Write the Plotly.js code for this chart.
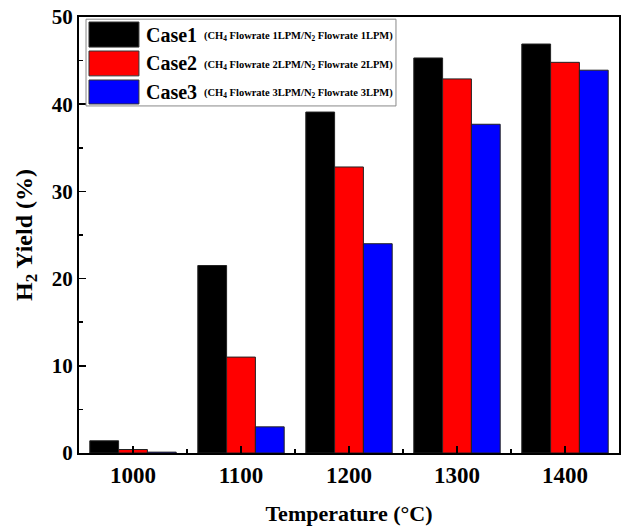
<!DOCTYPE html>
<html>
<head>
<meta charset="utf-8">
<script src="https://cdn.plot.ly/plotly-3.0.1.min.js"></script>
<style>html,body{margin:0;padding:0;background:#fff}#chart{width:623px;height:526px}</style>
</head>
<body>
<div id="chart"></div>
<script>
const temperatures = [1000, 1100, 1200, 1300, 1400];
const case1 = [1.4, 21.5, 39.1, 45.3, 46.9];
const case2 = [0.4, 11.0, 32.8, 42.9, 44.8];
const case3 = [0.1, 3.0, 24.0, 37.7, 43.9];
const seriesNames = ['Case1', 'Case2', 'Case3'];
const seriesNotes = [
  '(CH<sub>4</sub> Flowrate 1LPM/N<sub>2</sub> Flowrate 1LPM)',
  '(CH<sub>4</sub> Flowrate 2LPM/N<sub>2</sub> Flowrate 2LPM)',
  '(CH<sub>4</sub> Flowrate 3LPM/N<sub>2</sub> Flowrate 3LPM)'
];
const colors = ['#000000', '#ff0000', '#0000ff'];
const values = [case1, case2, case3];

const FONT = 'Liberation Serif, Times New Roman, serif';

const traces = values.map((v, i) => ({
  type: 'bar',
  x: temperatures,
  y: v,
  name: seriesNames[i],
  marker: {color: colors[i], line: {color: '#222', width: 1}},
  showlegend: false
}));

// custom legend (paper coordinates)
const shapes = [{
  type: 'rect', xref: 'paper', yref: 'paper',
  x0: 0.013, x1: 0.587, y0: 0.796, y1: 0.995,
  line: {color: '#888', width: 1}, fillcolor: 'rgba(255,255,255,1)'
}];
const rows = [[0.9885, 0.931], [0.922, 0.865], [0.8555, 0.8005]];
const annotations = [];
rows.forEach((r, i) => {
  shapes.push({
    type: 'rect', xref: 'paper', yref: 'paper',
    x0: 0.0185, x1: 0.111, y0: r[1], y1: r[0],
    line: {color: '#333', width: 1}, fillcolor: colors[i]
  });
  const yc = (r[0] + r[1]) / 2;
  annotations.push({
    xref: 'paper', yref: 'paper', x: 0.12, y: yc, xanchor: 'left', yanchor: 'middle',
    text: '<b>' + seriesNames[i] + '</b>', showarrow: false,
    font: {family: FONT, size: 20, color: '#000'}
  });
  annotations.push({
    xref: 'paper', yref: 'paper', x: 0.228, y: yc - 0.004, xanchor: 'left', yanchor: 'middle',
    text: '<b>' + seriesNotes[i] + '</b>', showarrow: false,
    font: {family: FONT, size: 10.5, color: '#000'}
  });
});

const layout = {
  width: 623, height: 526,
  margin: {l: 79, r: 4, t: 17, b: 73},
  paper_bgcolor: '#fff', plot_bgcolor: '#fff',
  barmode: 'group', bargap: 0.2, bargroupgap: 0,
  font: {family: FONT, color: '#000'},
  xaxis: {
    range: [950, 1450], tickmode: 'linear', tick0: 1000, dtick: 100,
    ticks: 'inside', ticklen: 7, tickwidth: 1.5, tickcolor: '#000',
    minor: {tickmode: 'linear', tick0: 950, dtick: 50, ticks: 'inside', ticklen: 4, tickwidth: 1.5, tickcolor: '#000'},
    showline: true, linecolor: '#000', linewidth: 2, mirror: true,
    showgrid: false, zeroline: false,
    tickfont: {family: FONT, size: 23, weight: 'bold'},
    title: {text: '<b>Temperature (°C)</b>', font: {family: FONT, size: 22}, standoff: 20}
  },
  yaxis: {
    range: [0, 50], tickmode: 'linear', tick0: 0, dtick: 10,
    ticks: 'inside', ticklen: 7, tickwidth: 1.5, tickcolor: '#000',
    minor: {tickmode: 'linear', tick0: 0, dtick: 5, ticks: 'inside', ticklen: 4, tickwidth: 1.5, tickcolor: '#000'},
    showline: true, linecolor: '#000', linewidth: 2, mirror: true,
    showgrid: false, zeroline: false,
    tickfont: {family: FONT, size: 21, weight: 'bold'},
    title: {text: '<b>H<sub>2</sub> Yield (%)</b>', font: {family: FONT, size: 24}, standoff: 12}
  },
  shapes: shapes,
  annotations: annotations
};

Plotly.newPlot('chart', traces, layout, {displayModeBar: false, staticPlot: true});
</script>
</body>
</html>
